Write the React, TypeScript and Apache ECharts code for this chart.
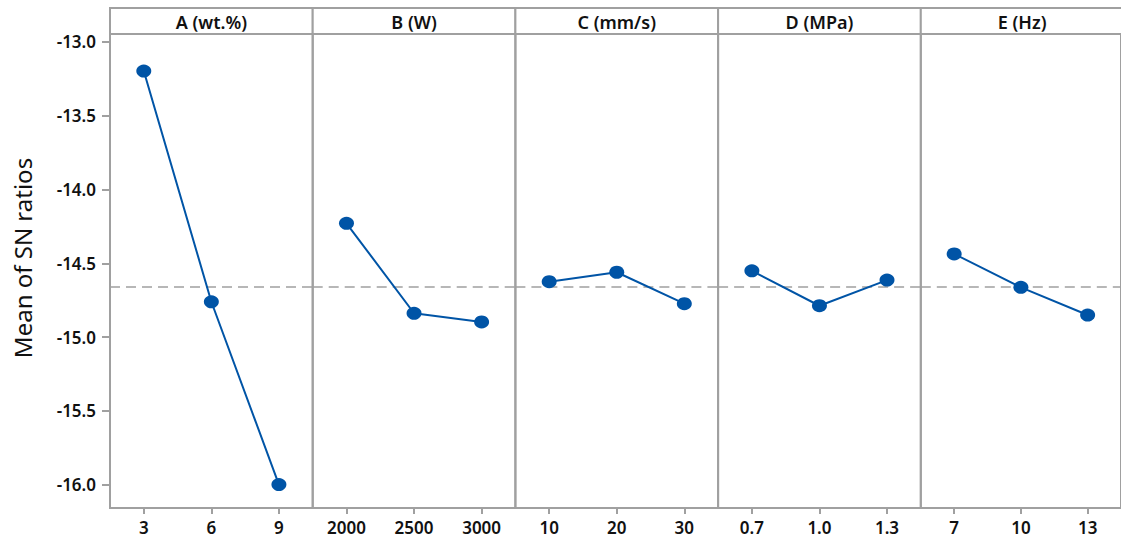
import React, { useEffect, useRef } from "react";
import * as echarts from "echarts";

const factorNames = ["A (wt.%)", "B (W)", "C (mm/s)", "D (MPa)", "E (Hz)"];
const levelsA = ["3", "6", "9"];
const levelsB = ["2000", "2500", "3000"];
const levelsC = ["10", "20", "30"];
const levelsD = ["0.7", "1.0", "1.3"];
const levelsE = ["7", "10", "13"];
const snA = [-13.197, -14.761, -16.0];
const snB = [-14.229, -14.839, -14.898];
const snC = [-14.625, -14.561, -14.774];
const snD = [-14.551, -14.788, -14.614];
const snE = [-14.437, -14.663, -14.851];
const overallMean = -14.656;
const yTickValues = [-16.0, -15.5, -15.0, -14.5, -14.0, -13.5, -13.0];
const yTitle = "Mean of SN ratios";

const levels = [levelsA, levelsB, levelsC, levelsD, levelsE];
const values = [snA, snB, snC, snD, snE];

const FONT = "'Noto Sans', 'Open Sans', sans-serif";
const GRAY = "#a0a0a0";
const BLUE = "#0054a6";

export default function App() {
  const ref = useRef<HTMLDivElement>(null);
  useEffect(() => {
    if (!ref.current) return;
    const chart = echarts.init(ref.current, null, { renderer: "svg" });
    const left0 = 110;
    const pw = 202.7;
    const top = 34;
    const bottom = 508;
    const yMin = -16.159;
    const yMax = -12.946;

    const grids = levels.map((_, i) => ({
      left: left0 + i * pw,
      top,
      width: pw,
      height: bottom - top,
      show: true,
      borderColor: GRAY,
      borderWidth: 2,
      backgroundColor: "transparent",
    }));

    const xAxes = levels.map((lv, i) => ({
      type: "category",
      gridIndex: i,
      data: lv,
      boundaryGap: true,
      axisLine: { show: false },
      axisTick: {
        show: true,
        alignWithLabel: true,
        length: 6,
        lineStyle: { color: GRAY, width: 2 },
      },
      axisLabel: {
        margin: 11,
        fontSize: 17,
        fontWeight: 600,
        color: "#111",
        fontFamily: FONT,
      },
      splitLine: { show: false },
    }));

    const yAxes = levels.map((_, i) => ({
      type: "value",
      gridIndex: i,
      min: yMin,
      max: yMax,
      axisLine: { show: false },
      splitLine: { show: false },
      axisTick:
        i === 0
          ? {
              show: true,
              length: 8,
              customValues: yTickValues,
              lineStyle: { color: GRAY, width: 2 },
            }
          : { show: false },
      axisLabel:
        i === 0
          ? {
              show: true,
              customValues: yTickValues,
              margin: 14,
              fontSize: 17,
              fontWeight: 600,
              color: "#111",
              fontFamily: FONT,
              formatter: (v: number) => v.toFixed(1),
            }
          : { show: false },
    }));

    const series = values.map((vals, i) => ({
      type: "line",
      xAxisIndex: i,
      yAxisIndex: i,
      data: vals,
      symbol: "circle",
      symbolSize: [15, 13],
      lineStyle: { color: BLUE, width: 2 },
      itemStyle: { color: BLUE },
      z: 3,
      markLine: {
        silent: true,
        symbol: "none",
        label: { show: false },
        z: 1,
        lineStyle: { color: GRAY, type: [10, 6], width: 1.5 },
        data: [{ yAxis: overallMean }],
      },
    }));

    const headers: any[] = [];
    factorNames.forEach((name, i) => {
      headers.push({
        type: "rect",
        shape: { x: left0 + i * pw, y: 8, width: pw, height: top - 8 },
        style: { fill: "#fff", stroke: GRAY, lineWidth: 2 },
        z: 10,
      });
      headers.push({
        type: "text",
        x: left0 + i * pw + pw / 2,
        y: 22,
        style: {
          text: name,
          fontSize: 18,
          fontWeight: 600,
          fill: "#111",
          fontFamily: FONT,
          textAlign: "center",
          verticalAlign: "middle",
        },
        z: 11,
      });
    });
    headers.push({
      type: "text",
      x: 22,
      y: 258,
      rotation: Math.PI / 2,
      style: {
        text: yTitle,
        fontSize: 24,
        fontWeight: 400,
        fill: "#111",
        fontFamily: FONT,
        textAlign: "center",
        verticalAlign: "middle",
      },
      z: 11,
    });

    chart.setOption({
      animation: false,
      backgroundColor: "#fff",
      grid: grids,
      xAxis: xAxes,
      yAxis: yAxes,
      series,
      graphic: headers,
    });
    return () => chart.dispose();
  }, []);
  return (
    <div
      ref={ref}
      style={{ position: "absolute", left: 0, top: 0, width: 1121, height: 539 }}
    />
  );
}
